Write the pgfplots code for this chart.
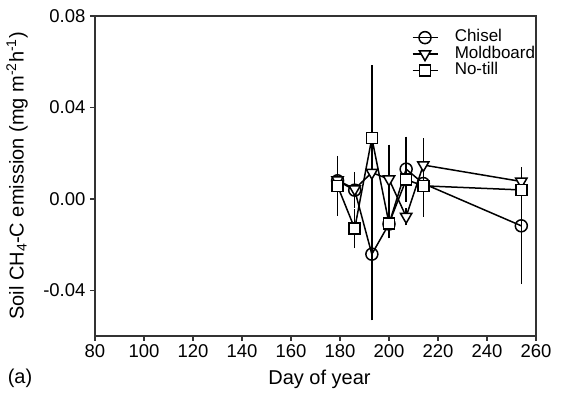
\documentclass[border=0pt]{standalone}
\usepackage{fontspec}
\setmainfont{Liberation Sans}
\usepackage{pgfplots}
\pgfplotsset{compat=1.18}
\usetikzlibrary{calc}
\pgfplotstableread{
x y e
179 0.0079 0.0044
186 0.0038 0.0060
193 -0.0242 0.0272
200 -0.0110 0.0030
207 0.0130 0.0125
214 0.0067 0.0128
254 -0.0118 0.0238
}\chisel
\pgfplotstableread{
x y e
179 0.0082 0.0030
186 0.0043 0.0035
193 0.0115 0.0015
200 0.0086 0.0134
207 -0.0078 0.0020
214 0.0148 0.0100
254 0.0076 0.0044
}\moldboard
\pgfplotstableread{
x y e
179 0.0057 0.0113
186 -0.0130 0.0068
193 0.0266 0.0300
200 -0.0108 0.0047
207 0.0084 0.0076
214 0.0057 0.0101
254 0.0039 0.0066
}\notill
\begin{document}
\begin{tikzpicture}
\useasboundingbox (-95pt,-62pt) rectangle (485pt,336pt);
\begin{axis}[
  scale only axis, width=441pt, height=320pt,
  at={(0pt,0pt)}, anchor=south west,
  xmin=80, xmax=260, ymin=-0.06, ymax=0.08,
  xtick={80,100,...,260}, ytick={-0.04,0,0.04,0.08},
  scaled y ticks=false, scaled x ticks=false,
  tick align=outside, xtick pos=bottom, ytick pos=left,
  major tick length=5pt,
  axis line style={line width=1.5pt, black!80},
  tick style={line width=1.5pt, black!80},
  ticklabel style={font=\fontsize{18.5}{22}\selectfont},
  /pgf/number format/assume math mode=true,
  yticklabel style={/pgf/number format/fixed, /pgf/number format/fixed zerofill, /pgf/number format/precision=2, xshift=-1pt},
  xticklabel style={/pgf/number format/fixed, /pgf/number format/precision=0},
  xlabel={Day of year},
  ylabel={Soil CH\textsubscript{4}-C emission (mg m\textsuperscript{-2}h\textsuperscript{-1})},
  label style={font=\fontsize{20}{24}\selectfont},
  xlabel style={at={($(rel axis cs:0.5,0)+(4pt,-43pt)$)}, anchor=center},
  ylabel style={at={($(rel axis cs:0,0.5)+(-78pt,0pt)$)}, anchor=center},
  legend style={draw=none, fill=none, at={(rel axis cs:0.711,0.965)}, anchor=north west,
    font=\fontsize{17}{18}\selectfont, row sep=0pt, column sep=16pt,
    nodes={inner sep=0.5pt, text height=12pt, text depth=3.5pt}},
  legend cell align=left,
  legend image code/.code={\draw[mark repeat=2, mark phase=2] plot coordinates {(0pt,0pt) (12.5pt,0pt) (25pt,0pt)};},
]
\addplot[black, line width=1.5pt, mark=o, mark size=6pt, mark options={fill=white, solid},
  error bars/.cd, y dir=both, y explicit, error bar style={line width=1.5pt}, error mark options={line width=1.5pt, mark size=4pt, black}]
  table[x=x, y=y, y error=e] {\chisel};
\addlegendentry{Chisel}
\addplot[black, line width=1.5pt, mark=triangle*, mark size=6.5pt, mark options={fill=white, rotate=180, solid},
  error bars/.cd, y dir=both, y explicit, error bar style={line width=1.5pt}, error mark options={line width=1.5pt, mark size=4pt, black, rotate=0}]
  table[x=x, y=y, y error=e] {\moldboard};
\addlegendentry{Moldboard}
\addplot[black, line width=1.5pt, mark=square*, mark size=5.5pt, mark options={fill=white, solid},
  error bars/.cd, y dir=both, y explicit, error bar style={line width=1.5pt}, error mark options={line width=1.5pt, mark size=4pt, black}]
  table[x=x, y=y, y error=e] {\notill};
\addlegendentry{No-till}
\end{axis}
\node[font=\fontsize{20}{24}\selectfont] at (-75pt,-42pt) {(a)};
\end{tikzpicture}
\end{document}
